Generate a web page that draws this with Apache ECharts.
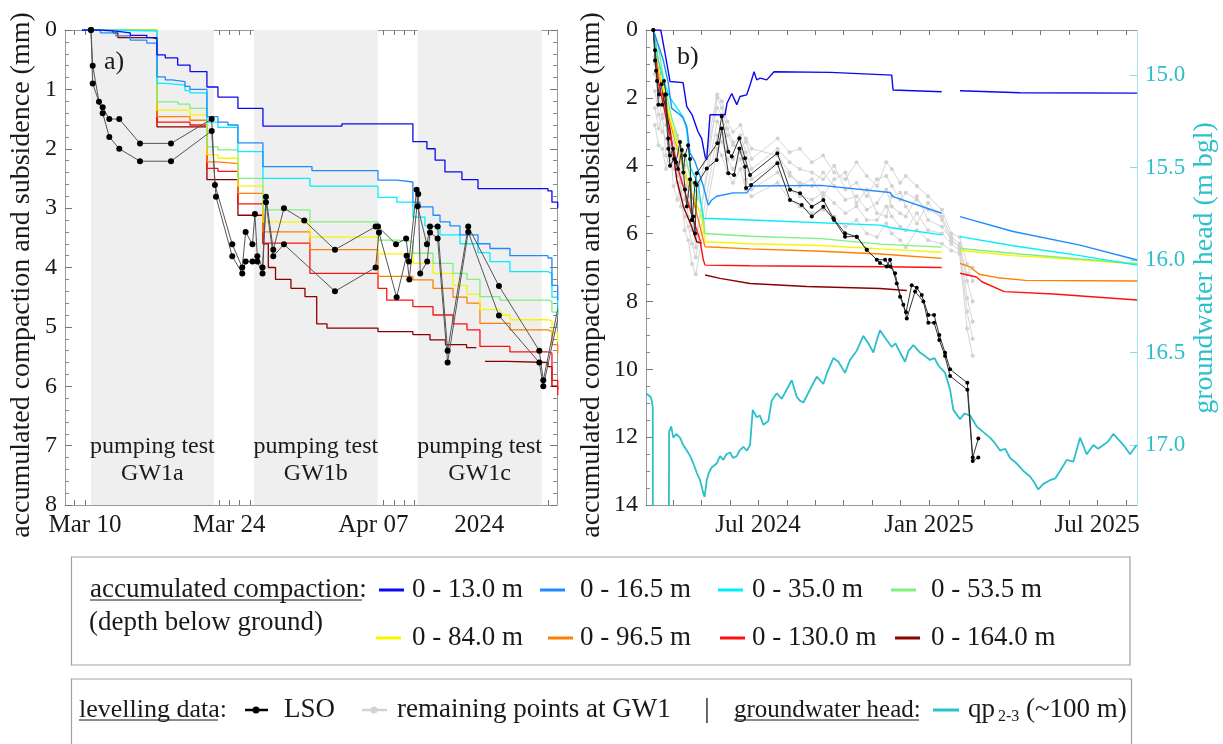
<!DOCTYPE html>
<html><head><meta charset="utf-8">
<script src="https://cdn.jsdelivr.net/npm/echarts@6/dist/echarts.min.js"></script>
<style>html,body{margin:0;padding:0;background:#fff}#c{width:1223px;height:744px}</style>
</head><body><div id="c"></div>
<script>
const FONT = '"Liberation Serif","Times New Roman",serif';
// x values: panel a) in days since 1 Mar 2024 (Mar 10 = 9), panel b) in days since 1 Jan 2024 (Jul 1 2024 = 182)

// ---------- legend / series names & colours ----------
const depthNames = ['0 - 13.0 m','0 - 16.5 m','0 - 35.0 m','0 - 53.5 m','0 - 84.0 m','0 - 96.5 m','0 - 130.0 m','0 - 164.0 m'];
const depthColors = ['#0a0af0','#1e8cff','#00eeff','#80f080','#f6f600','#ff8000','#ff1010','#8b0000'];

// ---------- panel a) ----------
const pumpingTests = [
  {name:'GW1a', start:9.58, end:21.52},
  {name:'GW1b', start:25.41, end:37.42},
  {name:'GW1c', start:41.30, end:53.34}
];
const left_13_0 = [[8.71,0],[10.5,0.02],[12,0.05],[13.4,0.09],[15,0.13],[15.99,0.42],[16.8,0.47],[18.0,0.59],[19.2,0.7],[20.84,0.96],[21.91,1.13],[23.85,1.32],[26.28,1.62],[33.95,1.58],[40.84,1.88],[42.2,2.0],[43.0,2.19],[43.95,2.39],[45.6,2.52],[47.16,2.67],[53.95,2.71],[54.34,2.9],[54.9,3.0]];
const left_16_5 = [[8.71,0],[10.5,0.05],[12,0.1],[13.4,0.17],[15,0.22],[15.99,0.79],[16.8,0.84],[17.45,0.87],[18.71,0.95],[19.19,1.0],[20.84,1.46],[21.91,1.55],[22.88,1.6],[23.85,1.9],[26.28,2.3],[31.04,2.37],[37.45,2.53],[39.29,2.56],[40.84,2.9],[41.52,2.98],[42.79,3.12],[43.47,3.23],[44.44,3.3],[45.41,3.45],[47.16,3.6],[48.32,3.68],[50.26,3.8],[53.95,3.84],[54.34,4.3],[54.9,4.55]];
const left_35_0 = [[8.71,0],[12,0.02],[15.99,0.9],[16.8,0.93],[18.71,1.02],[19.19,1.06],[20.84,1.55],[21.91,1.64],[23.85,2.05],[26.28,2.5],[30.84,2.63],[37.45,2.82],[39.29,2.9],[40.84,3.15],[42.01,3.3],[43.47,3.45],[45.41,3.6],[47.16,3.75],[48.32,3.9],[50.26,4.07],[53.95,4.1],[54.34,4.5],[54.9,4.8]];
const left_53_5 = [[8.71,0],[15.99,1.21],[18.03,1.25],[19.19,1.32],[20.84,1.97],[21.91,2.02],[23.85,2.5],[26.28,3.03],[30.84,3.23],[37.45,3.54],[39.29,3.56],[40.84,3.76],[42.79,3.93],[44.73,4.1],[46.09,4.2],[47.35,4.49],[49.29,4.55],[53.95,4.57],[54.34,4.75],[54.9,4.8]];
const left_84_0 = [[8.71,0],[15.99,1.35],[19.19,1.43],[20.84,2.1],[21.91,2.16],[23.85,2.63],[26.28,3.23],[30.84,3.49],[37.45,3.77],[40.84,3.93],[42.79,4.1],[44.73,4.3],[46.09,4.45],[47.35,4.71],[49.29,4.8],[50.26,4.88],[53.95,4.9],[54.34,5.1],[54.9,5.25]];
const left_96_5 = [[8.71,0],[15.99,1.46],[19.19,1.52],[20.84,2.22],[21.91,2.25],[23.85,2.75],[26.28,3.4],[30.84,3.7],[37.45,4.15],[40.84,4.21],[42.79,4.35],[44.73,4.5],[46.09,4.6],[47.35,4.94],[50.26,5.05],[53.95,5.08],[54.34,5.3],[54.9,5.45]];
const left_130_0 = [[8.71,0],[15.99,1.55],[19.19,1.6],[20.84,2.33],[21.91,2.38],[23.85,2.93],[26.28,3.59],[30.84,4.1],[37.45,4.35],[38.3,4.55],[40.84,4.66],[42.79,4.8],[44.73,4.95],[46.09,5.05],[47.35,5.33],[50.26,5.42],[53.95,5.44],[54.34,5.9],[54.9,6.15]];
const left_164_0 = [[8.71,0],[11.72,0.05],[12.2,0.13],[15.5,0.15],[15.99,1.63],[20.84,2.52],[23.85,3.12],[26.28,3.6],[26.8,4.0],[27.5,4.2],[29,4.35],[30.36,4.49],[31.5,4.95],[32.5,5.02],[37.45,5.08],[40.84,5.13],[42.5,5.22],[44,5.3],[46.05,5.35],[47,null],[47.83,5.58],[50,5.6],[53.95,5.67],[54.34,6.0],[54.9,6.06]];
const leftLsoA = [[9.58,0],[9.75,0.6],[10.36,1.21],[10.72,1.3],[11.36,1.5],[12.33,1.5],[14.34,1.91],[17.35,1.91],[21.3,1.5],[21.62,2.61],[23.3,3.61],[24.27,4.0],[24.6,3.4],[25.26,3.61],[25.5,3.1],[25.73,3.81],[26.24,4.0],[26.57,2.81],[27.28,3.7],[28.32,3.0],[30.29,3.21],[33.27,3.7],[37.22,3.31],[37.45,3.31],[39.2,3.61],[40.18,3.51],[40.45,3.9],[41.2,2.69],[41.3,2.97],[42.2,3.61],[42.5,3.31],[43.24,3.31],[44.21,5.4],[46.21,3.31],[49.19,4.31],[53.11,5.4],[53.5,5.9],[55.6,4.1]];
const leftLsoB = [[9.58,0],[9.75,0.9],[10.72,1.4],[11.36,1.8],[12.33,2.0],[14.34,2.21],[17.35,2.21],[21.3,1.7],[21.72,2.81],[23.3,3.81],[24.27,4.1],[24.6,3.9],[25.26,3.9],[25.73,3.9],[26.24,4.1],[26.57,2.9],[27.28,3.81],[28.32,3.61],[33.27,4.4],[37.22,4.0],[37.54,3.41],[39.26,4.5],[40.23,3.8],[40.49,4.2],[41.36,2.76],[41.55,4.1],[42.23,3.9],[42.5,3.41],[43.24,3.51],[44.21,5.6],[46.21,3.4],[49.19,4.81],[53.11,5.6],[53.5,6.0],[55.6,4.3]];

// ---------- panel b) ----------
const right_13_0 = [[69.3,0],[77.3,0],[81.9,0.69],[87.3,1.52],[101.3,1.55],[105.3,2.26],[111,2.5],[117.4,3.0],[121.4,3.2],[125,3.73],[126.8,3.83],[130.3,2.5],[146.5,2.5],[148.6,2.16],[153.7,1.87],[159.1,2.2],[162.6,1.96],[169.8,1.91],[173.4,1.62],[177.7,1.23],[180.6,1.47],[184.2,1.42],[191.4,1.47],[199.2,1.23],[260,1.25],[325.9,1.33],[327.3,1.77],[379.7,1.82],[390,null],[399.4,1.79],[464,1.85],[590,1.86]];
const right_16_5 = [[69.3,0],[75.4,0.5],[80.1,0.9],[85.1,1.52],[89.1,2.31],[98,2.5],[101.6,2.6],[105.3,2.85],[108.8,3.63],[114.2,3.88],[119.6,4.32],[123.1,4.6],[126.8,5.0],[128.5,5.16],[132.2,5.01],[137.5,4.9],[155.4,4.8],[169.8,4.8],[175.2,4.6],[250,4.58],[324.1,4.79],[327.3,4.91],[379.7,5.4],[390,null],[399.4,5.5],[456.5,5.94],[528.6,6.34],[590,6.78]];
const right_35_0 = [[69.3,0],[74.4,0.86],[80.1,1.47],[87.3,2.0],[101.3,2.56],[105.3,2.95],[108.8,4.03],[117.4,4.52],[123.1,5.55],[173.4,5.6],[313.3,5.75],[324.1,5.82],[379.7,6.04],[390,null],[399.4,6.09],[456.5,6.36],[528.6,6.65],[590,6.93]];
const right_53_5 = [[69.3,0],[74.7,0.5],[81.9,1.67],[89.1,2.6],[95.9,3.2],[103.4,3.7],[108.8,4.3],[114.2,4.7],[121.4,5.2],[125,6.0],[173.4,6.08],[250,6.15],[313.3,6.31],[379.7,6.4],[390,null],[399.4,6.44],[464,6.6],[528.6,6.75],[590,6.88]];
const right_84_0 = [[69.3,0],[76.5,1.32],[87.3,2.6],[98,3.7],[108.8,4.7],[121.4,5.5],[125,6.24],[173.4,6.3],[250,6.35],[313.3,6.45],[379.7,6.55],[390,null],[399.4,6.5],[456.5,6.65],[500,6.72],[590,6.9]];
const right_96_5 = [[69.3,0],[76.5,1.4],[89.1,2.9],[99.9,3.9],[112.4,5.0],[121.4,6.0],[125,6.39],[173.4,6.45],[250,6.52],[313.3,6.6],[379.7,6.73],[390,null],[399.4,6.88],[410,6.98],[420,7.2],[440,7.3],[470,7.38],[590,7.4]];
const right_130_0 = [[69.3,0],[74.7,1.5],[85.4,2.9],[98,4.3],[112.4,5.6],[119.6,6.2],[123.1,6.78],[125,6.93],[173.4,6.95],[313.3,6.98],[379.7,7.0],[390,null],[399.4,7.17],[417,7.28],[423,7.42],[447,7.71],[500,7.78],[590,7.96]];
const right_164_0 = [[69.3,0],[80.1,1.96],[87.3,2.95],[94.5,4.41],[101.6,5.2],[110.6,5.8],[116,6.24],[121.4,6.29],[123,null],[125,7.22],[141.1,7.32],[173.4,7.47],[234.4,7.56],[313.3,7.62],[342.1,7.68]];
const rightLsoA = [[69.3,0],[71.1,0.6],[72.2,1.2],[75.4,1.9],[78.3,1.6],[80.8,1.5],[83.0,1.9],[85.4,3.2],[87.3,3.7],[90.5,3.5],[93.7,3.9],[98.0,3.3],[101.6,4.2],[103.4,3.7],[106.7,3.4],[108.8,3.8],[111.0,5.6],[114.2,4.5],[116.0,4.22],[138.2,3.34],[142.9,2.55],[150.0,3.59],[153.7,3.73],[161.9,3.19],[168.0,3.78],[173.4,4.27],[202.8,3.63],[216.4,4.71],[227.2,4.81],[239.8,5.21],[252.3,5.01],[263.1,5.55],[275.6,5.99],[288.2,6.09],[299.0,6.48],[309.8,6.77],[318.7,6.77],[324.1,6.97],[329.5,7.17],[334.9,7.86],[341.3,8.32],[347.4,7.52],[352.8,7.6],[358.2,7.81],[365.3,8.4],[371.5,8.4],[377.1,8.99],[383.3,9.51],[388.7,10.0],[407.3,10.4],[413.1,12.6],[419.1,12.04]];
const rightLsoB = [[69.3,0],[71.1,0.9],[73.3,1.5],[74.7,2.2],[78.7,2.2],[81.9,1.9],[85.4,3.5],[87.3,4.0],[91.6,3.8],[95.9,4.1],[99.9,3.54],[103.4,4.7],[105.3,5.2],[108.8,4.4],[110.6,5.6],[112.4,5.5],[114.2,6.0],[116.0,4.57],[126.8,4.08],[137.5,3.83],[142.9,2.9],[150.0,4.22],[156.2,4.27],[161.9,3.49],[168.0,4.03],[169.1,4.66],[174.5,4.57],[202.8,3.93],[216.4,5.01],[229.0,5.16],[239.8,5.5],[252.3,5.21],[263.8,5.6],[275.6,6.09],[288.2,6.09],[299.0,6.48],[313.3,6.87],[320.5,6.97],[324.1,6.77],[331.3,7.47],[338.4,8.1],[342.1,8.5],[351.0,7.71],[360.0,8.0],[365.3,8.63],[371.5,8.63],[377.1,9.14],[383.3,9.61],[388.7,10.2],[407.3,10.6],[413.1,12.7],[419.1,12.6]];

// remaining levelling points at GW1 (grey), shared survey days
const grayDays = [71,75,79,83,87,91,95,99,103,107,111,115,138,143,149,155,163,169,175,203,216,227,240,252,264,276,288,299,310,320,326,335,341,353,365,380,390,399,407,413];
const gray1 = [0.8,1.6,2.1,2.4,2.9,3.3,3.5,3.9,4.2,4.6,4.9,5.2,1.9,2.1,2.7,3.0,2.8,3.3,3.8,3.2,3.6,3.5,3.9,3.7,4.2,4.4,3.9,4.3,4.6,3.9,4.1,4.5,4.3,4.6,4.9,5.3,6.0,6.1,6.9,7.4];
const gray2 = [1.3,2.0,2.6,2.2,3.3,3.7,3.1,4.4,4.0,5.1,5.4,5.0,2.3,2.5,3.1,3.4,3.1,3.6,4.1,3.5,3.9,4.1,4.2,4.4,4.0,4.7,4.5,4.9,4.4,4.3,4.6,5.0,4.8,5.0,5.3,5.5,6.1,6.3,7.4,8.0];
const gray3 = [1.8,2.5,3.0,3.2,3.6,4.1,3.9,4.8,4.6,5.5,5.9,6.1,2.7,2.9,3.5,3.8,3.5,4.0,4.4,3.9,4.3,4.5,4.6,4.2,4.6,5.0,4.9,5.3,5.1,4.7,5.2,5.4,5.5,4.9,5.6,5.8,6.2,6.4,7.9,8.6];
const gray4 = [2.3,2.9,2.5,3.7,4.0,3.6,4.5,5.2,5.5,5.8,6.3,6.7,3.1,3.3,3.8,4.1,3.8,4.4,4.7,4.2,4.7,4.9,5.0,4.8,5.1,5.4,5.2,5.6,5.6,5.2,5.5,5.8,5.9,5.4,5.9,6.0,6.3,6.5,8.3,9.1];
const gray5 = [2.8,3.4,3.5,4.1,3.4,4.6,5.0,4.5,5.9,6.2,6.9,7.2,3.5,3.7,4.2,4.5,4.1,4.7,4.9,4.5,5.0,5.2,5.4,5.3,5.5,5.8,5.6,6.0,6.1,5.7,6.0,6.2,6.4,5.9,6.2,6.3,6.5,6.6,8.8,9.6];
const gray6 = [1.0,1.3,1.9,2.8,2.6,3.0,4.3,3.7,5.0,4.9,5.6,6.4,2.0,2.3,2.9,3.3,3.6,3.2,3.5,3.7,4.2,4.6,4.4,4.9,4.4,4.2,5.1,4.7,5.4,5.5,4.9,4.8,5.2,5.7,5.1,5.6,6.2,6.4,7.2,7.0];

// groundwater head qp2-3 (m bgl)
const headData = [[61.4,16.72],[66.5,16.74],[68.0,16.77],[68.7,16.8],[68.8,17.6],[77,null],[86.0,17.6],[86.2,16.93],[88.5,16.9],[90.8,16.96],[94,16.94],[98.0,16.96],[101.5,17.0],[105.3,17.03],[109,17.06],[112.4,17.1],[116,17.15],[119.6,17.19],[123.1,17.26],[124.5,17.28],[126.8,17.19],[129,17.15],[132.2,17.12],[137.5,17.1],[141,17.06],[144.6,17.08],[148,17.05],[151.9,17.04],[155,17.07],[159.1,17.06],[162,17.03],[166.2,17.01],[170,17.03],[173.4,17.0],[176.3,16.81],[180.6,16.85],[184,16.84],[187.7,16.89],[193.1,16.87],[196.7,16.76],[202.1,16.72],[207.5,16.75],[212.9,16.7],[218.3,16.65],[223.7,16.74],[227,16.76],[230.8,16.77],[238.0,16.7],[245.2,16.63],[252.3,16.67],[257,16.6],[263.1,16.53],[268.5,16.55],[275.6,16.61],[281.0,16.54],[288.2,16.49],[295.3,16.41],[300.7,16.45],[306.1,16.5],[310,16.43],[313.3,16.38],[318.7,16.42],[325.9,16.47],[330,16.45],[334.9,16.5],[340.2,16.55],[344,16.49],[349.2,16.46],[356.4,16.5],[362,16.52],[367.1,16.54],[372,16.53],[376.1,16.57],[383.3,16.61],[388.7,16.7],[392.2,16.81],[399.4,16.86],[404,16.83],[410.2,16.84],[417.4,16.9],[424.5,16.93],[431.7,16.96],[437,16.99],[442.5,17.03],[448,17.02],[453.3,17.07],[460.5,17.1],[467.6,17.14],[474.8,17.17],[479,17.2],[483.7,17.24],[489.1,17.21],[496.3,17.19],[502,17.18],[507.1,17.14],[514.3,17.08],[521.4,17.09],[528.6,16.96],[535.8,17.05],[542.9,17.0],[548,17.02],[553.7,17.0],[559,16.98],[564.4,16.94],[571.7,16.98],[577,17.01],[582.4,17.05],[589.6,17.0]];

// tick labels
const leftXLabels = [[9,'Mar 10'],[23,'Mar 24'],[37,'Apr 07'],[47.28,'2024']];
const rightXLabels = [[182,'Jul 2024'],[366,'Jan 2025'],[547,'Jul 2025']];
const rightMonthTicks = [91,121,152,182,213,244,274,305,335,366,397,425,456,486,517,547,578];
const headTicks = [15.0, 15.5, 16.0, 16.5, 17.0];

// ---------- helpers ----------
const clean = a => a.map(p => [p[0], p[1] == null ? '-' : p[1]]);
const grayZip = vals => grayDays.map((d,i) => [d, vals[i]]);
const leftTickVals = []; for (let d = 8; d <= 54; d++) leftTickVals.push(d);
function labelFor(list) {
  return v => { for (const l of list) { if (Math.abs(l[0] - v) < 0.05) return l[1]; } return ''; };
}
const AX = '#9a9a9a';
const TXT = '#1a1a1a';
const HEAD = '#2cbfcc';

function xAxisCfg(grid, pos, min, max, ticks, labels) {
  return {
    type:'value', gridIndex:grid, position:pos, min, max, scale:true,
    axisLine:{show:true, onZero:false, lineStyle:{color:AX, width:1}},
    axisTick:{show:true, inside:true, length:5, customValues:ticks, lineStyle:{color:'#777'}},
    axisLabel: labels ? {show:true, customValues:labels.map(l => l[0]), formatter:labelFor(labels), fontFamily:FONT, fontSize:25, color:TXT, margin:8} : {show:false},
    splitLine:{show:false}, minorTick:{show:false}
  };
}

const series = [];
series.push({
  type:'line', xAxisIndex:0, yAxisIndex:0, data:[[30,'-']], showSymbol:false, silent:true, z:0,
  markArea:{
    silent:true, itemStyle:{color:'#efefef'},
    label:{show:true, position:'insideBottom', distance:18, formatter:p => 'pumping test\n' + p.name,
      fontFamily:FONT, fontSize:24, lineHeight:27, color:TXT},
    data: pumpingTests.map(p => [{name:p.name, xAxis:p.start},{xAxis:p.end}])
  }
});
const leftComp = [left_13_0,left_16_5,left_35_0,left_53_5,left_84_0,left_96_5,left_130_0,left_164_0];
const rightComp = [right_13_0,right_16_5,right_35_0,right_53_5,right_84_0,right_96_5,right_130_0,right_164_0];
for (let i = 7; i >= 0; i--) {
  series.push({type:'line', name:depthNames[i], xAxisIndex:0, yAxisIndex:0, step:'end', data:clean(leftComp[i]),
    showSymbol:false, lineStyle:{color:depthColors[i], width:1.3}, z:3, silent:true});
}
[leftLsoA, leftLsoB].forEach(a => series.push({type:'line', name:'LSO', xAxisIndex:0, yAxisIndex:0, data:clean(a),
  symbol:'circle', symbolSize:6, showSymbol:true, itemStyle:{color:'#000'}, lineStyle:{color:'#555', width:1}, z:5, silent:true}));

[gray1,gray2,gray3,gray4,gray5,gray6].forEach(gv => series.push({type:'line', name:'remaining points at GW1', xAxisIndex:1, yAxisIndex:2,
  data:grayZip(gv), symbol:'circle', symbolSize:4, itemStyle:{color:'#d2d2d2'}, lineStyle:{color:'#d6d6d6', width:1}, z:2, silent:true}));
for (let i = 7; i >= 0; i--) {
  series.push({type:'line', name:depthNames[i], xAxisIndex:1, yAxisIndex:2, data:clean(rightComp[i]),
    showSymbol:false, lineStyle:{color:depthColors[i], width:1.4}, z:3, silent:true});
}
[rightLsoA, rightLsoB].forEach(a => series.push({type:'line', name:'LSO', xAxisIndex:1, yAxisIndex:2, data:clean(a),
  symbol:'circle', symbolSize:4, showSymbol:true, itemStyle:{color:'#000'}, lineStyle:{color:'#333', width:1}, z:5, silent:true}));
series.push({type:'line', name:'qp2-3 (~100 m)', xAxisIndex:1, yAxisIndex:3, data:clean(headData), showSymbol:false,
  lineStyle:{color:HEAD, width:1.8}, z:4, silent:true});

// ---------- graphic: titles, panel letters, legend boxes ----------
const g = [];
function txt(x, y, text, size, opt) {
  g.push({type:'text', x, y, rotation:(opt && opt.rot) || 0, z:100, silent:true,
    style:{text, fontFamily:FONT, fontSize:size, fill:(opt && opt.fill) || TXT,
      align:(opt && opt.align) || 'left', verticalAlign:'middle'}});
}
function ln(x1, y1, x2, y2, stroke, w) {
  g.push({type:'line', z:100, silent:true, shape:{x1,y1,x2,y2}, style:{stroke, lineWidth:w}});
}
txt(22, 275, 'accumulated compaction and subsidence (mm)', 28, {rot:Math.PI/2, align:'center'});
txt(592, 275, 'accumulated compaction and subsidence (mm)', 28, {rot:Math.PI/2, align:'center'});
txt(1205, 268, 'groundwater head (m bgl)', 28, {rot:Math.PI/2, align:'center', fill:HEAD});
txt(104, 62, 'a)', 26);
txt(677, 57, 'b)', 26);

// legend box 1
g.push({type:'rect', z:99, silent:true, shape:{x:71.5, y:557, width:1058.5, height:108}, style:{fill:'#fff', stroke:'#a0a0a0', lineWidth:1.2}});
txt(90, 590, 'accumulated compaction:', 27);
ln(90, 600, 362, 600, TXT, 1);
txt(89, 623, '(depth below ground)', 27);
const legLine = [[379,590],[540,590],[718,590],[891,590],[376,638],[548,638],[720,638],[895,638]];
const legText = [412,580,752,931,412,580,752,931];
for (let i = 0; i < 8; i++) {
  ln(legLine[i][0], legLine[i][1], legLine[i][0]+25, legLine[i][1], depthColors[i], 3);
  txt(legText[i], legLine[i][1], depthNames[i], 27);
}
// legend box 2
g.push({type:'rect', z:99, silent:true, shape:{x:71.5, y:679, width:1060, height:90}, style:{fill:'#fff', stroke:'#a0a0a0', lineWidth:1.2}});
txt(79, 710, 'levelling data:', 26);
ln(79, 720, 218, 720, TXT, 1);
ln(245, 710, 268, 710, '#000', 2.5);
g.push({type:'circle', z:101, silent:true, shape:{cx:256, cy:710, r:3.5}, style:{fill:'#000'}});
txt(284, 710, 'LSO', 27);
ln(362, 710, 387, 710, '#d2d2d2', 2.5);
g.push({type:'circle', z:101, silent:true, shape:{cx:374, cy:710, r:3.5}, style:{fill:'#d2d2d2'}});
txt(397, 710, 'remaining points at GW1', 27);
txt(707, 710, '|', 27, {align:'center'});
txt(734, 710, 'groundwater head:', 25);
ln(734, 720, 919, 720, TXT, 1);
ln(933, 710, 959, 710, HEAD, 3);
txt(968, 710, 'qp', 27);
txt(998, 717, '2-3', 16);
txt(1026, 710, '(~100 m)', 27);

const option = {
  animation:false,
  backgroundColor:'#fff',
  textStyle:{fontFamily:FONT},
  grid:[
    {left:65, top:30, width:492, height:475, containLabel:false},
    {left:646, top:30, width:491, height:475, containLabel:false}
  ],
  xAxis:[
    xAxisCfg(0, 'bottom', 7.06, 54.83, leftTickVals, leftXLabels),
    xAxisCfg(1, 'bottom', 61.4, 589.9, rightMonthTicks, rightXLabels),
    xAxisCfg(0, 'top', 7.06, 54.83, leftTickVals, null),
    xAxisCfg(1, 'top', 61.4, 589.9, rightMonthTicks, null)
  ],
  yAxis:[
    {type:'value', gridIndex:0, position:'left', inverse:true, min:0, max:8, interval:1,
      axisLine:{show:true, lineStyle:{color:AX}}, axisTick:{show:true, inside:true, length:7, lineStyle:{color:'#777'}},
      minorTick:{show:true, splitNumber:5, length:4, lineStyle:{color:'#888'}}, splitLine:{show:false},
      axisLabel:{fontFamily:FONT, fontSize:24, color:TXT, margin:8}},
    {type:'value', gridIndex:0, position:'right', inverse:true, min:0, max:8, interval:1,
      axisLine:{show:true, lineStyle:{color:AX}}, axisTick:{show:true, inside:true, length:7, lineStyle:{color:'#777'}},
      minorTick:{show:true, splitNumber:5, length:4, lineStyle:{color:'#888'}}, splitLine:{show:false}, axisLabel:{show:false}},
    {type:'value', gridIndex:1, position:'left', inverse:true, min:0, max:14, interval:2,
      axisLine:{show:true, lineStyle:{color:AX}}, axisTick:{show:true, inside:true, length:7, lineStyle:{color:'#777'}},
      minorTick:{show:true, splitNumber:4, length:4, lineStyle:{color:'#888'}}, splitLine:{show:false},
      axisLabel:{fontFamily:FONT, fontSize:24, color:TXT, margin:8}},
    {type:'value', gridIndex:1, position:'right', inverse:true, min:14.757, max:17.324,
      axisLine:{show:true, lineStyle:{color:'#a6e6ec'}},
      axisTick:{show:true, inside:true, length:7, customValues:headTicks, lineStyle:{color:'#8fdbe3'}},
      splitLine:{show:false},
      axisLabel:{customValues:headTicks, formatter:v => Number(v).toFixed(1), fontFamily:FONT, fontSize:23, color:HEAD, margin:8}}
  ],
  series,
  graphic:{elements:g}
};
const chart = echarts.init(document.getElementById('c'), null, {renderer:'canvas'});
chart.setOption(option);
</script></body></html>
